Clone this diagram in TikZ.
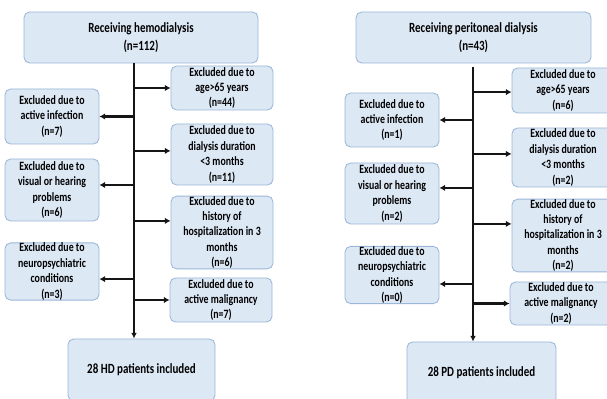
\documentclass[tikz,border=0pt]{standalone}
\usepackage{fontspec}
\setmainfont{Carlito}[FakeStretch=0.78]
\usepackage{xcolor}
\usepackage{tikz}
\usetikzlibrary{arrows.meta}

\definecolor{boxfill}{HTML}{DDE8F5}
\definecolor{boxline}{HTML}{9AB6D8}
\definecolor{flowline}{HTML}{151515}

\begin{document}
\begin{tikzpicture}[
  x=0.025cm, y=-0.025cm,
  box/.style={draw=boxline, fill=boxfill, line width=0.6pt,
              rounded corners=4pt, inner sep=0pt, align=center,
              font=\fontsize{9}{11}\selectfont\bfseries},
  headbox/.style={box, font=\fontsize{10}{12.8}\selectfont\bfseries},
  trunk/.style={flowline, line width=1.6pt,
                -{Latex[length=4pt, width=4pt]}},
  arr/.style={flowline, line width=1.6pt,
              -{Latex[length=4pt, width=4.5pt]}},
]
  \useasboundingbox (0,0) rectangle (607,399);
  \clip (0,0) rectangle (607,399);

  % Hemodialysis side
  \node[headbox, minimum width=234*0.025cm, minimum height=51*0.025cm]
    (hdtop) at (141,37.5) {Receiving hemodialysis\\(n=112)};
  \coordinate (hdtrunk) at (134,63);

  \node[box, minimum width=102*0.025cm, minimum height=44*0.025cm]
    (hdage) at (222,88) {Excluded due to\\age>65 years\\(n=44)};
  \node[box, minimum width=94*0.025cm, minimum height=55*0.025cm]
    (hdinf) at (52,116.5) {Excluded due to\\active infection\\(n=7)};
  \node[box, minimum width=102*0.025cm, minimum height=61*0.025cm]
    (hddur) at (222,154.5)
    {Excluded due to\\dialysis duration\\<3 months\\(n=11)};
  \node[box, minimum width=94*0.025cm, minimum height=62*0.025cm]
    (hdvis) at (52,190)
    {Excluded due to\\visual or hearing\\problems\\(n=6)};
  \node[box, minimum width=102*0.025cm, minimum height=71*0.025cm]
    (hdhosp) at (222,232.5)
    {Excluded due to\\history of\\hospitalization in 3\\months\\(n=6)};
  \node[box, minimum width=94*0.025cm, minimum height=57*0.025cm]
    (hdneu) at (52,271.5)
    {Excluded due to\\neuropsychiatric\\conditions\\(n=3)};
  \node[box, minimum width=102*0.025cm, minimum height=44*0.025cm]
    (hdmal) at (221,300) {Excluded due to\\active malignancy\\(n=7)};
  \node[headbox, minimum width=147*0.025cm, minimum height=62*0.025cm]
    (hdinc) at (141.5,370) {28 HD patients included};

  % arrow ends
  \coordinate (hddurin)  at ([yshift=0.09cm]hddur.west);
  \coordinate (hdvisin)  at ([yshift=0.125cm]hdvis.east);
  \coordinate (hdhospin) at ([yshift=0.29cm]hdhosp.west);
  \coordinate (hdneuin)  at ([yshift=-0.19cm]hdneu.east);

  \draw[trunk] (hdtrunk) -- (hdtrunk |- hdinc.north);
  \draw[arr] (hdtrunk |- hdage.west) -- (hdage.west);
  \draw[arr] (hdtrunk |- hdinf.east) -- (hdinf.east);
  \draw[arr] (hdtrunk |- hddurin) -- (hddurin);
  \draw[arr] (hdtrunk |- hdvisin) -- (hdvisin);
  \draw[arr] (hdtrunk |- hdhospin) -- (hdhospin);
  \draw[arr] (hdtrunk |- hdneuin) -- (hdneuin);
  \draw[arr] (hdtrunk |- hdmal.west) -- (hdmal.west);

  % Peritoneal dialysis side
  \node[headbox, minimum width=235*0.025cm, minimum height=51*0.025cm]
    (pdtop) at (473.5,37.5) {Receiving peritoneal dialysis\\(n=43)};
  \coordinate (pdtrunk) at (473,67);

  \node[box, minimum width=102*0.025cm, minimum height=45*0.025cm]
    (pdage) at (563,90.5) {Excluded due to\\age>65 years\\(n=6)};
  \node[box, minimum width=94*0.025cm, minimum height=54*0.025cm]
    (pdinf) at (392,120) {Excluded due to\\active infection\\(n=1)};
  \node[box, minimum width=102*0.025cm, minimum height=59*0.025cm]
    (pddur) at (563,157.5)
    {Excluded due to\\dialysis duration\\<3 months\\(n=2)};
  \node[box, minimum width=94*0.025cm, minimum height=61*0.025cm]
    (pdvis) at (392,193.5)
    {Excluded due to\\visual or hearing\\problems\\(n=2)};
  \node[box, minimum width=102*0.025cm, minimum height=71*0.025cm]
    (pdhosp) at (563,235.5)
    {Excluded due to\\history of\\hospitalization in 3\\months\\(n=2)};
  \node[box, minimum width=94*0.025cm, minimum height=56*0.025cm]
    (pdneu) at (392,275)
    {Excluded due to\\neuropsychiatric\\conditions\\(n=0)};
  \node[box, minimum width=102*0.025cm, minimum height=43*0.025cm]
    (pdmal) at (561,303.5) {Excluded due to\\active malignancy\\(n=2)};
  \node[headbox, minimum width=149*0.025cm, minimum height=62*0.025cm]
    (pdinc) at (481.5,373) {28 PD patients included};

  % arrow ends
  \coordinate (pdagein)  at ([yshift=-0.04cm]pdage.west);
  \coordinate (pddurin)  at ([yshift=0.09cm]pddur.west);
  \coordinate (pdvisin)  at ([yshift=0.14cm]pdvis.east);
  \coordinate (pdhospin) at ([yshift=0.29cm]pdhosp.west);
  \coordinate (pdneuin)  at ([yshift=-0.225cm]pdneu.east);

  \draw[trunk] (pdtrunk) -- (pdtrunk |- pdinc.north);
  \draw[arr] (pdtrunk |- pdagein) -- (pdagein);
  \draw[arr] (pdtrunk |- pdinf.east) -- (pdinf.east);
  \draw[arr] (pdtrunk |- pddurin) -- (pddurin);
  \draw[arr] (pdtrunk |- pdvisin) -- (pdvisin);
  \draw[arr] (pdtrunk |- pdhospin) -- (pdhospin);
  \draw[arr] (pdtrunk |- pdneuin) -- (pdneuin);
  \draw[arr] (pdtrunk |- pdmal.west) -- (pdmal.west);

\end{tikzpicture}
\end{document}
